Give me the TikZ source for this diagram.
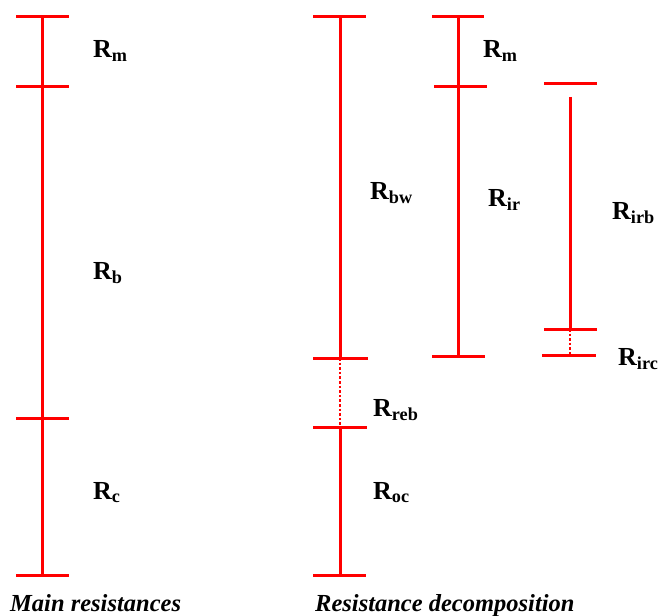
\documentclass[tikz,border=0pt]{standalone}
\usepackage{fontspec}
\setmainfont{Liberation Serif}
\begin{document}
\begin{tikzpicture}[x=1pt, y=-1pt,
    bar/.style={red, line width=3pt},
    gap/.style={red, line width=2.8pt, dash pattern=on 2.6pt off 2pt},
    lab/.style={anchor=base west, inner sep=0pt, font=\bfseries\fontsize{26}{28}\selectfont},
    capt/.style={anchor=base west, inner sep=0pt, font=\bfseries\itshape\fontsize{24.5}{26}\selectfont}]
    \useasboundingbox (0,0) rectangle (660,615);

    \coordinate (a0) at (42,17);
    \coordinate (a1) at (42,87);
    \coordinate (a2) at (42,418);
    \coordinate (a3) at (42,575);
    \draw[bar] (a0) -- (a3);
    \draw[bar] ([xshift=-26pt]a0) -- ([xshift=27pt]a0);
    \draw[bar] ([xshift=-26pt]a1) -- ([xshift=27pt]a1);
    \draw[bar] ([xshift=-26pt]a2) -- ([xshift=27pt]a2);
    \draw[bar] ([xshift=-26pt]a3) -- ([xshift=27pt]a3);
    \node[lab] (rm1) at (93,58) {R\textsubscript{m}};
    \node[lab] (rb) at (93,279) {R\textsubscript{b}};
    \node[lab] (rc) at (93,499) {R\textsubscript{c}};

    \coordinate (b0) at (340,17);
    \coordinate (b1) at (340,358);
    \coordinate (b2) at (340,427);
    \coordinate (b3) at (340,575);
    \draw[bar] (b0) -- (b1);
    \draw[gap] (b1) -- (b2);
    \draw[bar] (b2) -- (b3);
    \draw[bar] ([xshift=-27pt]b0) -- ([xshift=26pt]b0);
    \draw[bar] ([xshift=-27pt]b1) -- ([xshift=28pt]b1);
    \draw[bar] ([xshift=-27pt]b2) -- ([xshift=27pt]b2);
    \draw[bar] ([xshift=-27pt]b3) -- ([xshift=26pt]b3);
    \node[lab] (rbw) at (370,199) {R\textsubscript{bw}};
    \node[lab] (rreb) at (373,416) {R\textsubscript{reb}};
    \node[lab] (roc) at (373,499) {R\textsubscript{oc}};

    \coordinate (c0) at (458,17);
    \coordinate (c1) at (458,87);
    \coordinate (c2) at (458,356);
    \draw[bar] (c0) -- (c2);
    \draw[bar] ([xshift=-26pt]c0) -- ([xshift=26pt]c0);
    \draw[bar] ([xshift=-24pt]c1) -- ([xshift=29pt]c1);
    \draw[bar] ([xshift=-26pt]c2) -- ([xshift=27pt]c2);
    \node[lab] (rm2) at (483,58) {R\textsubscript{m}};
    \node[lab] (rir) at (488,206) {R\textsubscript{ir}};

    \coordinate (d0) at (570,84);
    \coordinate (d1) at (570,97);
    \coordinate (d2) at (570,329);
    \coordinate (d3) at (570,355);
    \draw[bar] (d1) -- (d2);
    \draw[gap] (d2) -- (d3);
    \draw[bar] ([xshift=-26pt]d0) -- ([xshift=27pt]d0);
    \draw[bar] ([xshift=-26pt]d2) -- ([xshift=27pt]d2);
    \draw[bar] ([xshift=-28pt]d3) -- ([xshift=26pt]d3);
    \node[lab] (rirb) at (612,219) {R\textsubscript{irb}};
    \node[lab] (rirc) at (618,365) {R\textsubscript{irc}};

    \node[capt] (main) at (10,611) {Main resistances};
    \node[capt] (decomp) at (315,611) {Resistance decomposition};
\end{tikzpicture}
\end{document}
